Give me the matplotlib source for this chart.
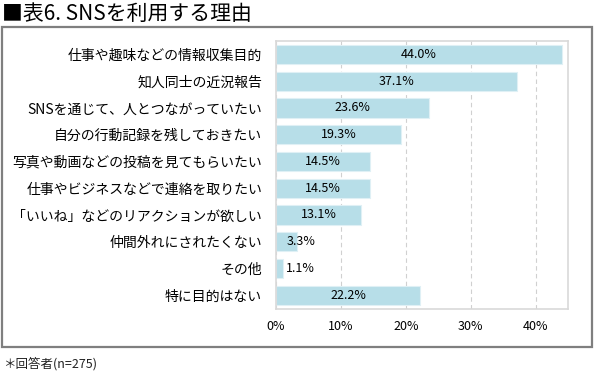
import matplotlib.pyplot as plt
from matplotlib.patches import Rectangle

plt.rcParams['font.family'] = ['Noto Sans CJK JP', 'DejaVu Sans']

title = "■表6. SNSを利用する理由"
note = "＊回答者(n=275)"
categories = [
    "仕事や趣味などの情報収集目的",
    "知人同士の近況報告",
    "SNSを通じて、人とつながっていたい",
    "自分の行動記録を残しておきたい",
    "写真や動画などの投稿を見てもらいたい",
    "仕事やビジネスなどで連絡を取りたい",
    "「いいね」などのリアクションが欲しい",
    "仲間外れにされたくない",
    "その他",
    "特に目的はない",
]
values = [44.0, 37.1, 23.6, 19.3, 14.5, 14.5, 13.1, 3.3, 1.1, 22.2]
xticks = [0, 10, 20, 30, 40]

fig = plt.figure(figsize=(6.0, 3.74), dpi=100)

# outer frame
fig.patches.append(Rectangle((0.004, 0.072), 0.983, 0.856, transform=fig.transFigure,
                             fill=False, edgecolor='#7f7f7f', linewidth=1.6))
fig.text(0.003, 0.962, title, fontsize=15, va='center', ha='left', color='black')
fig.text(0.005, 0.028, note, fontsize=9, va='center', ha='left', color='#222222')

ax = fig.add_axes([0.46, 0.175, 0.487, 0.715])
y = list(range(len(categories)))
ax.barh(y, values, height=0.72, color='#B7DEE8', edgecolor='#dff0f5', linewidth=0.8, zorder=2)
ax.set_ylim(len(categories) - 0.5, -0.5)
ax.set_xlim(0, 45)
ax.set_xticks(xticks)
ax.set_xticklabels([f"{t}%" for t in xticks], fontsize=9)
ax.set_yticks(y)
ax.set_yticklabels(categories, fontsize=10)
ax.tick_params(length=0, pad=10)
ax.tick_params(axis='x', pad=8)
ax.grid(axis='x', linestyle=(0, (4, 3)), color='#d0d0d0', linewidth=0.8, zorder=0)
for s in ax.spines.values():
    s.set_color('#d9d9d9')
    s.set_linewidth(1.2)

for i, v in enumerate(values):
    if v < 5:
        ax.text(1.6, i, f"{v:.1f}%", ha='left', va='center', fontsize=9, zorder=3)
    else:
        ax.text(v / 2, i, f"{v:.1f}%", ha='center', va='center', fontsize=9, zorder=3)

fig.savefig("out.png", dpi=100)
